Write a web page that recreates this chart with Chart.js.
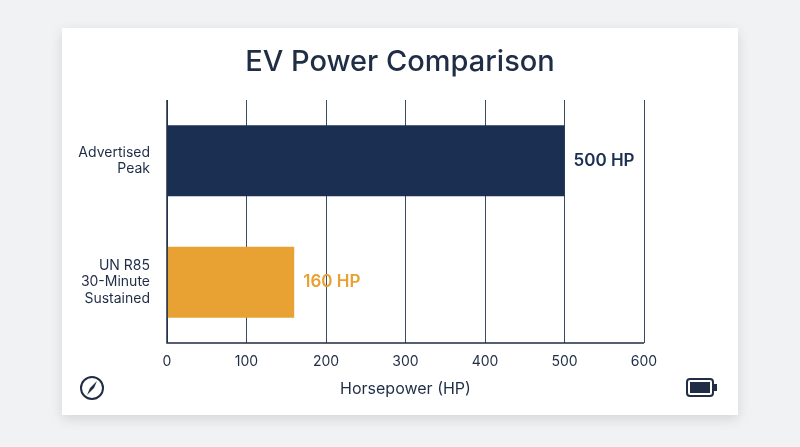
<!DOCTYPE html>
<html><head><meta charset="utf-8">
<script src="https://cdn.jsdelivr.net/npm/chart.js@4"></script>
<style>html,body{margin:0;padding:0;background:#f1f2f4;}#c{display:block}</style>
</head><body>
<canvas id="c" width="800" height="447"></canvas>
<script>
const categories = [["Advertised","Peak"],["UN R85","30-Minute","Sustained"]];
const values = [500,160];
const valueLabels = ["500 HP","160 HP"];
const barColors = ["#1b2f52","#e8a133"];
const xTicks = [0,100,200,300,400,500,600];
const INK = "#1f2d45";
const FONT = "Inter, 'Noto Sans', sans-serif";

const deco = {
  id:'deco',
  beforeDraw(ch){
    const c=ch.ctx; c.save();
    c.shadowColor='rgba(0,0,0,0.12)'; c.shadowBlur=12; c.shadowOffsetY=4;
    c.fillStyle='#fff'; c.fillRect(62,28,676,387);
    c.restore();
  },
  afterDraw(ch){
    const c=ch.ctx, a=ch.chartArea, x=ch.scales.x, y=ch.scales.y;
    c.save();
    c.fillStyle=INK; c.font="500 29px "+FONT; c.textAlign='center'; c.textBaseline='middle';
    c.fillText("EV Power Comparison",400,62);
    // axis lines
    c.strokeStyle=INK; c.lineWidth=1.5;
    c.beginPath(); c.moveTo(a.left,a.top); c.lineTo(a.left,a.bottom); c.lineTo(a.right,a.bottom); c.stroke();
    // value labels
    c.font="600 17px "+FONT; c.textAlign='left';
    values.forEach((v,i)=>{ c.fillStyle=barColors[i]; c.fillText(valueLabels[i], x.getPixelForValue(v)+9, y.getPixelForValue(i)); });
    // compass icon
    c.strokeStyle=INK; c.fillStyle=INK; c.lineWidth=2;
    c.beginPath(); c.arc(92,388,11,0,Math.PI*2); c.stroke();
    c.beginPath(); c.moveTo(97,381); c.lineTo(90,388); c.lineTo(87,395); c.lineTo(94,388); c.closePath(); c.fill();
    // battery
    c.beginPath(); c.roundRect(687,379,26,17,3); c.stroke();
    c.fillRect(690,382,20,11); c.fillRect(714,384,3,7);
    c.restore();
  }
};

new Chart(document.getElementById('c'),{
  type:'bar',
  data:{labels:categories,datasets:[{data:values,backgroundColor:barColors,barPercentage:1,categoryPercentage:0.585}]},
  options:{
    indexAxis:'y',responsive:false,animation:false,
    layout:{padding:{left:62,right:156,top:100,bottom:44}},
    plugins:{legend:{display:false},tooltip:{enabled:false},title:{display:false}},
    scales:{
      x:{min:0,max:600,afterBuildTicks(s){s.ticks=xTicks.map(v=>({value:v}));},
        afterFit(s){s.height=60;},
        grid:{color:'#3a4a63',lineWidth:1,drawTicks:false},border:{display:false},
        ticks:{color:INK,font:{size:14,family:FONT},padding:10},
        title:{display:true,text:"Horsepower (HP)",color:INK,font:{size:16,family:FONT},padding:{top:6}}},
      y:{afterFit(s){s.width=105;},grid:{display:false},border:{display:false},
        ticks:{color:INK,font:{size:14,family:FONT},padding:9}}
    }
  },
  plugins:[deco]
});
</script></body></html>
